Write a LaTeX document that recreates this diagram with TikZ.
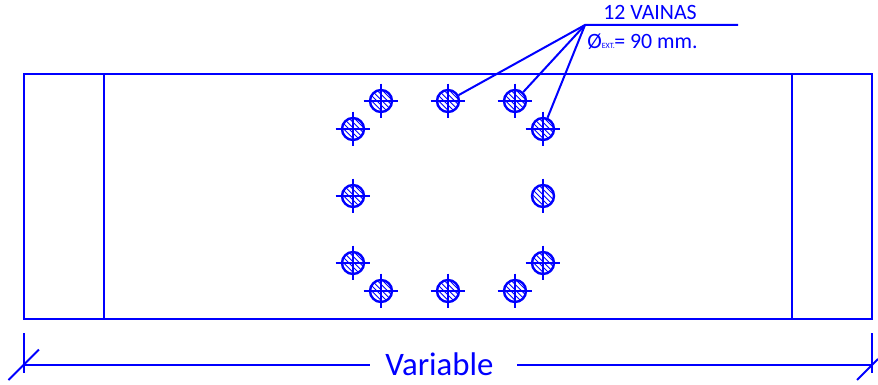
\documentclass[tikz,border=0pt]{standalone}
\usepackage{fontspec}
\setmainfont{Carlito}
\definecolor{ink}{RGB}{0,0,255}
\tikzset{
  px/.style={x=0.75pt,y=-0.75pt},
  outline/.style={draw=ink,line width=1.65pt,line cap=butt},
  thin line/.style={draw=ink,line width=1.5pt},
  hole/.style={circle,draw=ink,line width=1.8pt,minimum size=16.5pt,inner sep=0pt,
    path picture={
      \foreach \d in {-15,-11,...,15}{
        \draw[ink,line width=0.7pt] ([xshift=\d pt-12pt,yshift=12pt]path picture bounding box.center) -- ++(24pt,-24pt);
      }
    }},
  crossarm/.style={draw=ink,line width=1.5pt},
  label text/.style={text=ink,inner sep=0pt,anchor=base west},
}
\begin{document}
\begin{tikzpicture}[px]
\useasboundingbox (0,0) rectangle (878,385);
% outer frame
\coordinate (tl) at (24,74);
\coordinate (br) at (872,319);
\draw[outline] (tl) rectangle (br);
\draw[outline] (104,74) -- (104,319);
\draw[outline] (792,74) -- (792,319);
% holes
\foreach \n/\x/\y in {a/381/101,b/448/101,c/515/101,d/353/129,e/543/129,
  f/353/196,g/543/196,h/353/263,i/543/263,j/381/291,k/448/291,l/515/291}{
  \node[hole] (\n) at (\x,\y) {};
}
% centre marks
\foreach \n in {a,b,c,d,e,f,h,i,j,k,l}{
  \draw[crossarm] ([xshift=-13pt]\n.center) -- ([xshift=13pt]\n.center);
}
\foreach \n in {a,b,c,d,e,f,g,h,i,j,k,l}{
  \draw[crossarm] ([yshift=13pt]\n.center) -- ([yshift=-13pt]\n.center);
}
% leader
\coordinate (lead) at (585,25);
\coordinate (leadend) at (738,25);
\draw[thin line] (leadend) -- (lead) -- (b);
\draw[thin line] (lead) -- (c);
\draw[thin line] (lead) -- (e);
\node[label text,font=\fontsize{16.4}{16.4}\selectfont] (t1) at (603,20) {12 VAINAS};
\node[label text,font=\fontsize{16.4}{16.4}\selectfont] (t2) at (587,49) {Ø};
\node[label text,font=\fontsize{6}{6}\selectfont] (t3) at (601.5,49) {EXT.};
\node[label text,font=\fontsize{16.4}{16.4}\selectfont] (t4) at (614,49) {= 90 mm.};
% dimension
\coordinate (dl) at (24,365);
\coordinate (dr) at (872,365);
\node[label text,font=\fontsize{24.6}{24.6}\selectfont] (var) at (385,375) {Variable};
\coordinate (gapl) at (370,365);
\coordinate (gapr) at (517,365);
\draw[thin line] (dl) -- (gapl);
\draw[thin line] (gapr) -- (dr);
\draw[thin line] (24,333) -- (24,373);
\draw[thin line] (872,333) -- (872,373);
\draw[thin line] (8.5,380) -- (39,349.5);
\draw[thin line] (857,380) -- (878,359);
\end{tikzpicture}
\end{document}
